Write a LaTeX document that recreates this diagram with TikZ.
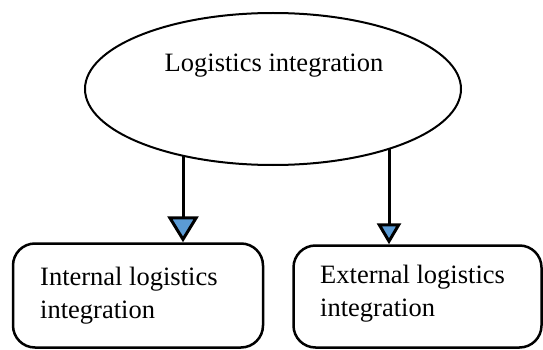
\documentclass[tikz,border=0pt]{standalone}
\usepackage{fontspec}
\setmainfont{Liberation Serif}
\usetikzlibrary{arrows.meta,shapes.geometric}
\definecolor{tipblue}{HTML}{5B9BD5}
\tikzset{
  oval/.style={draw, ellipse, line width=2pt, minimum width=376pt, minimum height=152pt, inner sep=0pt},
  roundbox/.style={draw, rounded corners=22pt, line width=2.5pt, inner sep=0pt},
  txt/.style={font=\fontsize{26.5pt}{33pt}\selectfont, align=left, inner sep=0pt},
  conn/.style={line width=3pt},
}
\begin{document}
\begin{tikzpicture}[x=1pt,y=-1pt]
\useasboundingbox (0,0) rectangle (543,350);
\node[oval] (e) at (273,89) {};
\node[txt, anchor=base] (et) at (274,72) {Logistics integration};
\node[roundbox, minimum width=250pt, minimum height=104pt] (lb) at (138,295.5) {};
\node[roundbox, minimum width=248pt, minimum height=102pt] (rb) at (417.5,296.5) {};
\node[txt, anchor=base west] (lt) at (40,318) {Internal logistics\\integration};
\node[txt, anchor=base west] (rt) at (320,316) {External logistics\\integration};
\coordinate (s1) at (183,156);
\coordinate (s2) at (389,149);
\draw[conn, -{Triangle[length=26pt, width=31pt, fill=tipblue]}] (s1) -- (s1 |- lb.north);
\draw[conn, -{Triangle[length=21pt, width=24pt, fill=tipblue]}] (s2) -- (s2 |- rb.north);
\end{tikzpicture}
\end{document}
